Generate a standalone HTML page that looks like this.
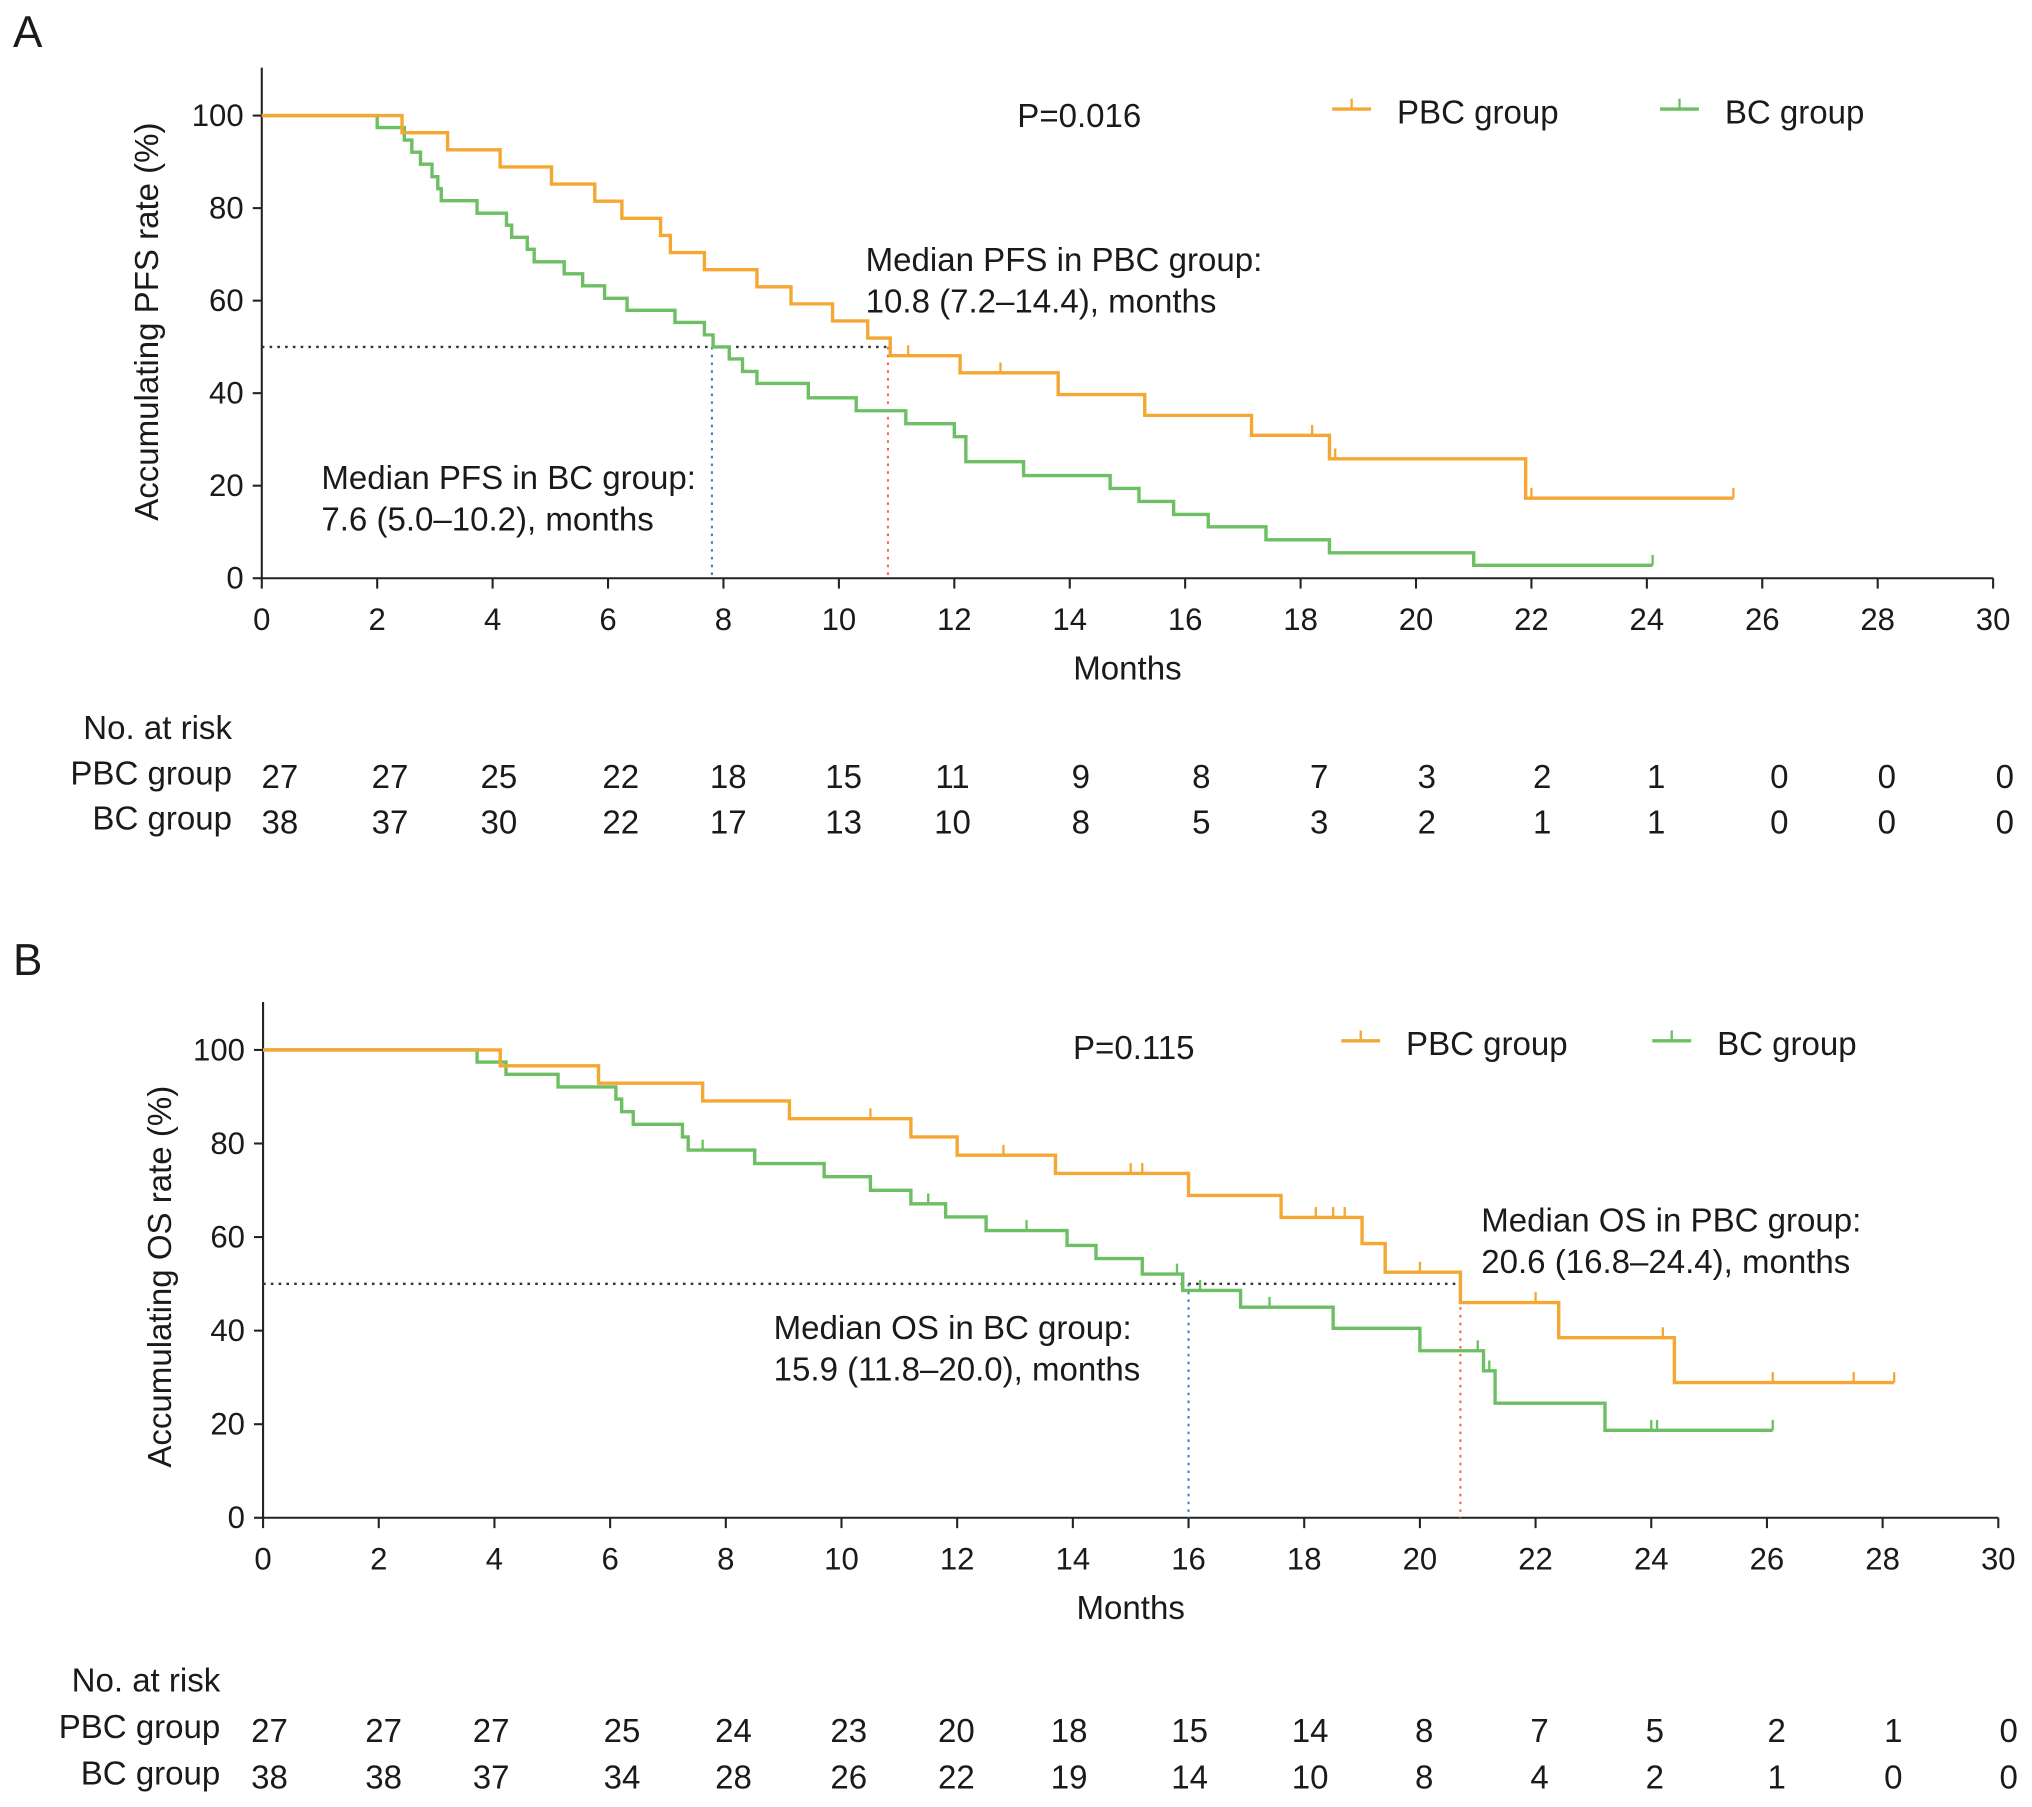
<!DOCTYPE html>
<html><head><meta charset="utf-8"><style>
html,body{margin:0;padding:0;background:#fff;}
svg{display:block;font-family:"Liberation Sans",Arial,sans-serif;}
text{fill:#1a1a1a;}
</style></head><body>
<svg id="fig" width="2032" height="1807" viewBox="0 0 1568 1394" xmlns="http://www.w3.org/2000/svg"></svg>
<script>
// ---- Panel A (PFS) data ----
const pfsPbcTimes = [2.43, 3.22, 4.13, 5.02, 5.77, 6.24, 6.91, 7.08, 7.67, 8.58, 9.17, 9.89, 10.5, 10.89, 12.1, 13.8, 15.3, 17.15, 18.5, 21.9];
const pfsPbcSurv  = [96.3, 92.6, 88.9, 85.2, 81.5, 77.8, 74.1, 70.4, 66.7, 63.0, 59.3, 55.6, 51.9, 48.1, 44.4, 39.7, 35.2, 30.9, 25.8, 17.3];
const pfsPbcEnd = 25.5;
const pfsPbcCensor = [11.2, 12.8, 18.2, 18.6, 22.0, 25.5];
const pfsBcTimes = [2.0, 2.47, 2.6, 2.75, 2.95, 3.05, 3.11, 3.73, 4.24, 4.33, 4.6, 4.72, 5.24, 5.56, 5.94, 6.33, 7.16, 7.67, 7.82, 8.1, 8.33, 8.58, 9.47, 10.3, 11.16, 12.0, 12.2, 13.2, 14.7, 15.2, 15.8, 16.4, 17.4, 18.5, 21.0];
const pfsBcSurv  = [97.4, 94.7, 92.1, 89.5, 86.8, 84.2, 81.6, 78.9, 76.3, 73.7, 71.1, 68.4, 65.8, 63.2, 60.5, 57.9, 55.3, 52.6, 50.0, 47.4, 44.7, 42.1, 39.0, 36.2, 33.4, 30.6, 25.2, 22.2, 19.4, 16.6, 13.8, 11.1, 8.3, 5.5, 2.8];
const pfsBcEnd = 24.1;
const pfsBcCensor = [24.1];
const pfsRiskPbc = [27,27,25,22,18,15,11,9,8,7,3,2,1,0,0,0];
const pfsRiskBc  = [38,37,30,22,17,13,10,8,5,3,2,1,1,0,0,0];
// ---- Panel B (OS) data ----
const osPbcTimes = [4.1, 5.8, 7.6, 9.1, 11.2, 12.0, 13.7, 16.0, 17.6, 19.0, 19.4, 20.7, 22.4, 24.4];
const osPbcSurv  = [96.6, 92.9, 89.1, 85.3, 81.4, 77.5, 73.6, 68.9, 64.2, 58.6, 52.5, 46.0, 38.5, 28.9];
const osPbcEnd = 28.2;
const osPbcCensor = [10.5, 12.8, 15.0, 15.2, 18.2, 18.5, 18.7, 20.0, 22.0, 24.2, 26.1, 27.5, 28.2];
const osBcTimes = [3.7, 4.2, 5.1, 6.1, 6.2, 6.4, 7.25, 7.35, 8.5, 9.7, 10.5, 11.2, 11.8, 12.5, 13.9, 14.4, 15.2, 15.9, 16.9, 18.5, 20.0, 21.1, 21.3, 23.2];
const osBcSurv  = [97.4, 94.8, 92.1, 89.5, 86.8, 84.1, 81.4, 78.6, 75.7, 72.9, 70.0, 67.1, 64.3, 61.4, 58.2, 55.4, 52.1, 48.6, 45.0, 40.5, 35.7, 31.4, 24.5, 18.7];
const osBcEnd = 26.1;
const osBcCensor = [7.6, 11.5, 13.2, 15.2, 15.8, 16.2, 17.4, 21.0, 21.2, 24.0, 24.1, 26.1];
const osRiskPbc = [27,27,27,25,24,23,20,18,15,14,8,7,5,2,1,0];
const osRiskBc  = [38,38,37,34,28,26,22,19,14,10,8,4,2,1,0,0];
const xTicks = [0,2,4,6,8,10,12,14,16,18,20,22,24,26,28,30];
const yTicks = [0,20,40,60,80,100];

const NS = "http://www.w3.org/2000/svg";
const svg = document.getElementById('fig');
const ORANGE = "#f5a733", GREEN = "#6cbf62";
const FS = 25.5, TFS = 24;
function el(tag, attrs, parent, txt){
  const e = document.createElementNS(NS, tag);
  for (const k in attrs) e.setAttribute(k, attrs[k]);
  if (txt !== undefined) e.textContent = txt;
  (parent||svg).appendChild(e);
  return e;
}
function panel(cfg){
  const g = el('g', {});
  
  
  const X = m => cfg.x0 + m * (cfg.x30 - cfg.x0) / 30;
  const Y = s => cfg.y0 - s * (cfg.y0 - cfg.y100) / 100;
  const ax = el('path', {d:`M${cfg.x0},${cfg.yTop} V${cfg.y0} H${cfg.x30}`, stroke:'#222', 'stroke-width':1.6, fill:'none'}, g);
  
  
  yTicks.forEach(v => {
    el('line', {x1:cfg.x0-7, x2:cfg.x0, y1:Y(v), y2:Y(v), stroke:'#222','stroke-width':1.6}, g);
    const t = el('text', {x:cfg.x0-14, y:Y(v)+8, 'text-anchor':'end', 'font-size':TFS}, g, String(v));
    
    
  });
  xTicks.forEach(v => {
    el('line', {x1:X(v), x2:X(v), y1:cfg.y0, y2:cfg.y0+8, stroke:'#222','stroke-width':1.6}, g);
    const t = el('text', {x:X(v), y:cfg.y0+40, 'text-anchor':'middle', 'font-size':TFS}, g, String(v));
    
    
  });
  const xt = el('text', {x:(cfg.x0+cfg.x30)/2, y:cfg.y0+78, 'text-anchor':'middle', 'font-size':FS}, g, 'Months');
  
  
  const yt = el('text', {x:0, y:0, 'text-anchor':'middle', 'font-size':FS, transform:`translate(${cfg.yTitleX},${cfg.yTitleY}) rotate(-90)`}, g, cfg.yTitle);
  
  
  const lab = el('text', {x:10, y:cfg.labelY, 'font-size':34}, g, cfg.label);
  
  
  const hl = el('line', {x1:cfg.x0, x2:X(cfg.medPbc), y1:Y(50), y2:Y(50), stroke:'#333','stroke-width':1.8,'stroke-dasharray':'2,4'}, g);
  
  
  const vb = el('line', {x1:X(cfg.medBc), x2:X(cfg.medBc), y1:Y(50), y2:cfg.y0, stroke:'#3b7fd0','stroke-width':1.6,'stroke-dasharray':'2,4'}, g);
  
  
  const vp = el('line', {x1:X(cfg.medPbc), x2:X(cfg.medPbc), y1:Y(50), y2:cfg.y0, stroke:'#ee6a4a','stroke-width':1.6,'stroke-dasharray':'2,4'}, g);
  
  
  function curve(times, surv, end, censor, color, name){
    let d = `M${X(0)},${Y(100)}`;
    times.forEach((t,i) => { d += ` H${X(t)} V${Y(surv[i])}`; });
    d += ` H${X(end)}`;
    const p = el('path', {d, stroke:color, 'stroke-width':2.6, fill:'none'}, g);
    
    
    censor.forEach(c => {
      let s = 100;
      times.forEach((t,i) => { if (t <= c) s = surv[i]; });
      const m = el('line', {x1:X(c), x2:X(c), y1:Y(s), y2:Y(s)-8, stroke:color, 'stroke-width':1.8}, g);
      
      
    });
  }
  curve(cfg.bcT, cfg.bcS, cfg.bcEnd, cfg.bcC, GREEN, 'bc-curve');
  curve(cfg.pbcT, cfg.pbcS, cfg.pbcEnd, cfg.pbcC, ORANGE, 'pbc-curve');
  function legend(x, ly, color, text, name){
    const lg = el('g', {}, g);
    
    
    el('line', {x1:x, x2:x+30, y1:ly, y2:ly, stroke:color, 'stroke-width':2.6}, lg);
    el('line', {x1:x+15, x2:x+15, y1:ly, y2:ly-8, stroke:color, 'stroke-width':1.8}, lg);
    el('text', {x:x+50, y:ly+11, 'font-size':FS}, lg, text);
  }
  legend(cfg.legPbcX, cfg.legY, ORANGE, 'PBC group', 'legend-pbc');
  legend(cfg.legBcX, cfg.legY, GREEN, 'BC group', 'legend-bc');
  const pv = el('text', {x:cfg.pX, y:cfg.legY+14, 'font-size':FS}, g, cfg.pText);
  
  
  cfg.notes.forEach(n => {
    const t = el('text', {x:n[0], y:n[1], 'font-size':FS}, g, n[2]);
    
    
  });
  const rt = el('g', {}, g);
  
  
  el('text', {x:cfg.riskLabelX, y:cfg.riskY[0], 'text-anchor':'end', 'font-size':FS}, rt, 'No. at risk');
  el('text', {x:cfg.riskLabelX, y:cfg.riskY[1], 'text-anchor':'end', 'font-size':FS}, rt, 'PBC group');
  el('text', {x:cfg.riskLabelX, y:cfg.riskY[2], 'text-anchor':'end', 'font-size':FS}, rt, 'BC group');
  cfg.riskPbc.forEach((v,i) => el('text', {x:cfg.riskCols[i], y:cfg.riskY[1]+3, 'text-anchor':'middle', 'font-size':FS}, rt, String(v)));
  cfg.riskBc.forEach((v,i) => el('text', {x:cfg.riskCols[i], y:cfg.riskY[2]+3, 'text-anchor':'middle', 'font-size':FS}, rt, String(v)));
}
panel({name:'panel-a-pfs', label:'A', labelY:36, x0:202, x30:1538, y0:446, y100:89, yTop:52,
  yTitle:'Accumulating PFS rate (%)', yTitleX:122, yTitleY:248,
  medPbc:10.85, medBc:7.8,
  pbcT:pfsPbcTimes, pbcS:pfsPbcSurv, pbcEnd:pfsPbcEnd, pbcC:pfsPbcCensor,
  bcT:pfsBcTimes, bcS:pfsBcSurv, bcEnd:pfsBcEnd, bcC:pfsBcCensor,
  legY:84, legPbcX:1028, legBcX:1281, pX:785, pText:'P=0.016',
  notes:[[668,209,'Median PFS in PBC group:'],[668,241,'10.8 (7.2\u201314.4), months'],[248,377,'Median PFS in BC group:'],[248,409,'7.6 (5.0\u201310.2), months']],
  riskLabelX:179, riskY:[570,605,640],
  riskCols:[216,301,385,479,562,651,735,834,927,1018,1101,1190,1278,1373,1456,1547],
  riskPbc:pfsRiskPbc, riskBc:pfsRiskBc});
panel({name:'panel-b-os', label:'B', labelY:752, x0:203, x30:1542, y0:1171, y100:810, yTop:773,
  yTitle:'Accumulating OS rate (%)', yTitleX:132, yTitleY:985,
  medPbc:20.7, medBc:16.0,
  pbcT:osPbcTimes, pbcS:osPbcSurv, pbcEnd:osPbcEnd, pbcC:osPbcCensor,
  bcT:osBcTimes, bcS:osBcSurv, bcEnd:osBcEnd, bcC:osBcCensor,
  legY:803, legPbcX:1035, legBcX:1275, pX:828, pText:'P=0.115',
  notes:[[1143,950,'Median OS in PBC group:'],[1143,982,'20.6 (16.8\u201324.4), months'],[597,1033,'Median OS in BC group:'],[597,1065,'15.9 (11.8\u201320.0), months']],
  riskLabelX:170, riskY:[1305,1341,1377],
  riskCols:[208,296,379,480,566,655,738,825,918,1011,1099,1188,1277,1371,1461,1550],
  riskPbc:osRiskPbc, riskBc:osRiskBc});
</script>
</body></html>
